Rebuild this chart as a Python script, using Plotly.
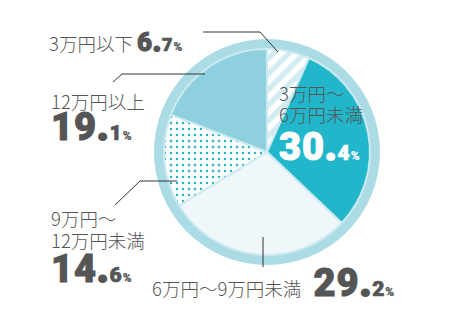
import plotly.graph_objects as go

categories = ["3万円以下", "3万円～6万円未満", "6万円～9万円未満", "9万円～12万円未満", "12万円以上"]
values = [6.7, 30.4, 29.2, 14.6, 19.1]
colors = ["#ffffff", "#22b6cb", "#eff7fa", "#ffffff", "#8fd0df"]
pattern_shapes = ["/", "", "", ".", ""]
pattern_fg = ["#d3ecf2", "#22b6cb", "#eff7fa", "#22b6cb", "#8fd0df"]

W, H = 449, 320
CX, CY = 267, 152
R_OUT, R_IN = 113, 103

def dom(r):
    return dict(x=[(CX - r) / W, (CX + r) / W], y=[1 - (CY + r) / H, 1 - (CY - r) / H])

fig = go.Figure()
# outer ring
fig.add_trace(go.Pie(values=[1], labels=["ring"], marker=dict(colors=["#abdce5"], line=dict(width=0)),
                     textinfo="none", hoverinfo="skip", sort=False, domain=dom(R_OUT), showlegend=False))
fig.add_trace(go.Pie(
    labels=categories, values=values, sort=False, direction="clockwise", rotation=0,
    marker=dict(colors=colors, line=dict(color="#cdeaf0", width=2),
                pattern=dict(shape=pattern_shapes, fgcolor=pattern_fg, bgcolor=colors,
                             size=[11, 8, 8, 6, 8], solidity=[0.5, 0.3, 0.3, 0.14, 0.3])),
    textinfo="none", domain=dom(R_IN), showlegend=False))

GRAY = "#555555"
JP = "Noto Sans CJK JP"
NUM = "Roboto"
JPS = 18.5
NB = "\u00a0"

def jp(t, color=GRAY):
    return f'<span style="font-size:{JPS}px;fill:{color}">{t}</span>'

def num(v, big, mid, small, color=GRAY):
    s = f"{v:.1f}"
    i, d = s.split(".")
    st = f"font-family:{NUM};fill:{color};stroke:{color};font-weight:900;letter-spacing:1px;"
    return (f'<span style="{st}stroke-width:1.0px;font-size:{big}px">{i}</span>'
            f'<span style="{st}stroke-width:2.2px;stroke-linejoin:miter;font-size:{big}px">.</span>'
            f'<span style="{st}stroke-width:0.7px;font-size:{mid}px">{d}</span>'
            f'<span style="{st}stroke-width:0.2px;font-size:{small}px">%</span>')

def ann(x, y, text, base, color=GRAY, yanchor="top"):
    fig.add_annotation(x=x, y=y, xref="x", yref="y", text=text, showarrow=False,
                       xanchor="left", yanchor=yanchor, align="left",
                       font=dict(family=JP, size=base, color=color, weight=300),
                       borderpad=0, borderwidth=0)

# labels (blank lines tune the line spacing)
ann(49, 42, jp(categories[0]) + NB + num(values[0], 26, 18, 12), JPS, yanchor="middle")
ann(152, 283, jp(categories[2]) + NB * 3 + num(values[2], 38, 21, 12), JPS, yanchor="middle")
ann(51, 88, jp("12万円以上") + "<br>" * 2 + num(values[4], 38, 21, 12), 11.8)
ann(51, 205, jp("9万円～") + "<br>" * 4 + jp("12万円未満") + "<br>" * 6 + num(values[3], 38, 21, 12), 4.3)
ann(279, 80, jp("3万円～") + "<br>" * 4 + jp("6万円未満") + "<br>" * 7 + num(values[1], 38, 21, 12, "#ffffff"), 4.1)

# leader lines
paths = [
    "M203,32 L260,32 L278,52",
    "M113,82 L122,74 L205,74",
    "M115,205 L140,181 L177,181",
    "M263,237 L263,267",
]
for p in paths:
    fig.add_shape(type="path", path=p, xref="x", yref="y", line=dict(color="#333333", width=1))

dots_x = [278, 205, 177, 263]
dots_y = [52, 74, 181, 237]
fig.add_trace(go.Scatter(x=dots_x, y=dots_y, mode="markers", marker=dict(color="#111111", size=7),
                         hoverinfo="skip", showlegend=False))

fig.update_layout(
    width=W, height=H, margin=dict(l=0, r=0, t=0, b=0),
    paper_bgcolor="white", plot_bgcolor="rgba(0,0,0,0)",
    xaxis=dict(range=[0, W], visible=False, fixedrange=True),
    yaxis=dict(range=[H, 0], visible=False, fixedrange=True),
)
fig.write_html("out.html")
